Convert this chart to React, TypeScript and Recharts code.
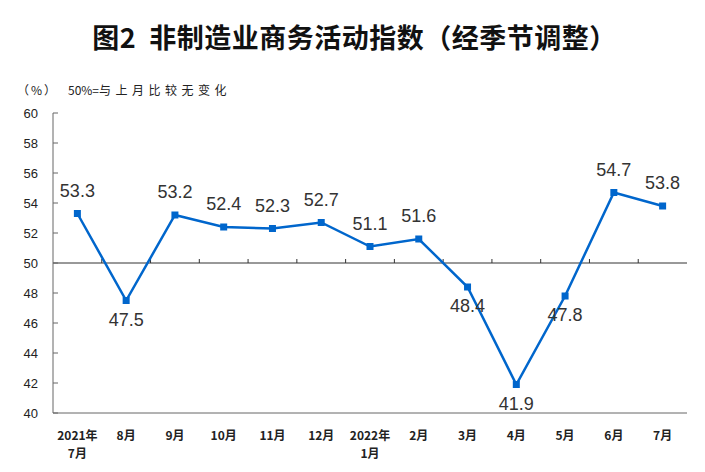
import React from 'react';
import { LineChart, Line, XAxis, YAxis, ReferenceLine, LabelList } from 'recharts';

const months = [
    '2021年\n7月', '8月', '9月', '10月', '11月', '12月',
    '2022年\n1月', '2月', '3月', '4月', '5月', '6月', '7月',
];
const indexValues = [53.3, 47.5, 53.2, 52.4, 52.3, 52.7, 51.1, 51.6, 48.4, 41.9, 47.8, 54.7, 53.8];
const yTicks = [40, 42, 44, 46, 48, 50, 52, 54, 56, 58, 60];

const data = months.map((m, i) => ({ month: m, value: indexValues[i] }));

const BLUE = '#0066cc';
const FRAME = '#666666';
const CJK = '"Noto Sans CJK SC", "Liberation Sans", sans-serif';
const PLOT_LEFT = 53;

const YTick = (props: any) => {
    const { y, payload } = props;
    return (
        <g>
            <line x1={PLOT_LEFT} x2={PLOT_LEFT + 5} y1={y} y2={y} stroke={FRAME} />
            <text x={38} y={y} textAnchor="end" dominantBaseline="central"
                fontSize={13} fill="#222" fontFamily='"Liberation Sans", Arial, sans-serif'>
                {payload.value}
            </text>
        </g>
    );
};

const XTick = (props: any) => {
    const { x, payload } = props;
    const lines = String(payload.value).split('\n');
    return (
        <g>
            {lines.map((t, i) => (
                <text key={i} x={x} y={434 + i * 18} textAnchor="middle" dominantBaseline="central"
                    fontSize={12} fontWeight="bold" fill="#222" fontFamily={CJK}>
                    {t}
                </text>
            ))}
        </g>
    );
};

const Square = (props: any) => {
    const { cx, cy, index } = props;
    return <rect key={`dot-${index}`} x={cx - 3.5} y={cy - 3.5} width={7} height={7} fill={BLUE} />;
};

const ValueLabel = (props: any) => {
    const { x, y, value } = props;
    const below = value < 50;
    return (
        <text x={x} y={below ? y + 19 : y - 23} textAnchor="middle" dominantBaseline="central"
            fontSize={18} fill="#333" fontFamily='"Liberation Sans", Arial, sans-serif'>
            {value.toFixed(1)}
        </text>
    );
};

// 50 line with small upward ticks at the category boundaries
const MidLine = (props: any) => {
    const { x1, x2, y1 } = props;
    const n = months.length;
    const step = (x2 - x1) / n;
    const ticks = [];
    for (let k = 1; k < n; k++) {
        const tx = x1 + step * k;
        ticks.push(<line key={k} x1={tx} x2={tx} y1={y1} y2={y1 - 4} stroke="#333" />);
    }
    return (
        <g>
            <line x1={x1} x2={x2} y1={y1} y2={y1} stroke="#333" strokeWidth={1} />
            {ticks}
        </g>
    );
};

const App: React.FC = () => {
    return (
        <div style={{ position: 'absolute', left: 0, top: 0, width: 705, height: 472, background: '#fff' }}>
            <div style={{
                position: 'absolute', left: 0, top: 21, width: 705, textAlign: 'center',
                fontFamily: CJK, fontWeight: 'bold', fontSize: 27, lineHeight: '32px', color: '#111',
                letterSpacing: 0.5, paddingLeft: 2,
            }}>
                图2&nbsp;&nbsp;非制造业商务活动指数（经季节调整）
            </div>
            <div style={{
                position: 'absolute', left: 17, top: 82, fontFamily: CJK, fontSize: 12,
                lineHeight: '16px', color: '#222', letterSpacing: 2,
            }}>
                （%）
            </div>
            <div style={{
                position: 'absolute', left: 68, top: 82, fontFamily: CJK, fontSize: 12,
                lineHeight: '16px', color: '#222',
            }}>
                <span>50%=</span>
                <span style={{ letterSpacing: 4.5 }}>与上月比较无变化</span>
            </div>
            <LineChart width={705} height={472} data={data}
                margin={{ top: 113, right: 18, bottom: 9, left: 8 }}
                style={{ position: 'absolute', left: 0, top: 0 }}>
                <XAxis dataKey="month" scale="band" interval={0} height={50} tickLine={false}
                    axisLine={{ stroke: FRAME }} tick={<XTick />} />
                <XAxis xAxisId="top" dataKey="month" scale="band" orientation="top" height={0}
                    tick={false} tickLine={false} axisLine={{ stroke: FRAME }} />
                <YAxis domain={[40, 60]} ticks={yTicks} width={45} tickLine={false}
                    axisLine={{ stroke: FRAME }} tick={<YTick />} interval={0} />
                <YAxis yAxisId="right" orientation="right" width={0} domain={[40, 60]}
                    tick={false} tickLine={false} axisLine={{ stroke: FRAME }} />
                <ReferenceLine y={50} shape={<MidLine />} />
                <Line type="linear" dataKey="value" stroke={BLUE} strokeWidth={2.5}
                    dot={<Square />} activeDot={false} isAnimationActive={false}>
                    <LabelList dataKey="value" content={<ValueLabel />} />
                </Line>
            </LineChart>
        </div>
    );
};

export default App;
